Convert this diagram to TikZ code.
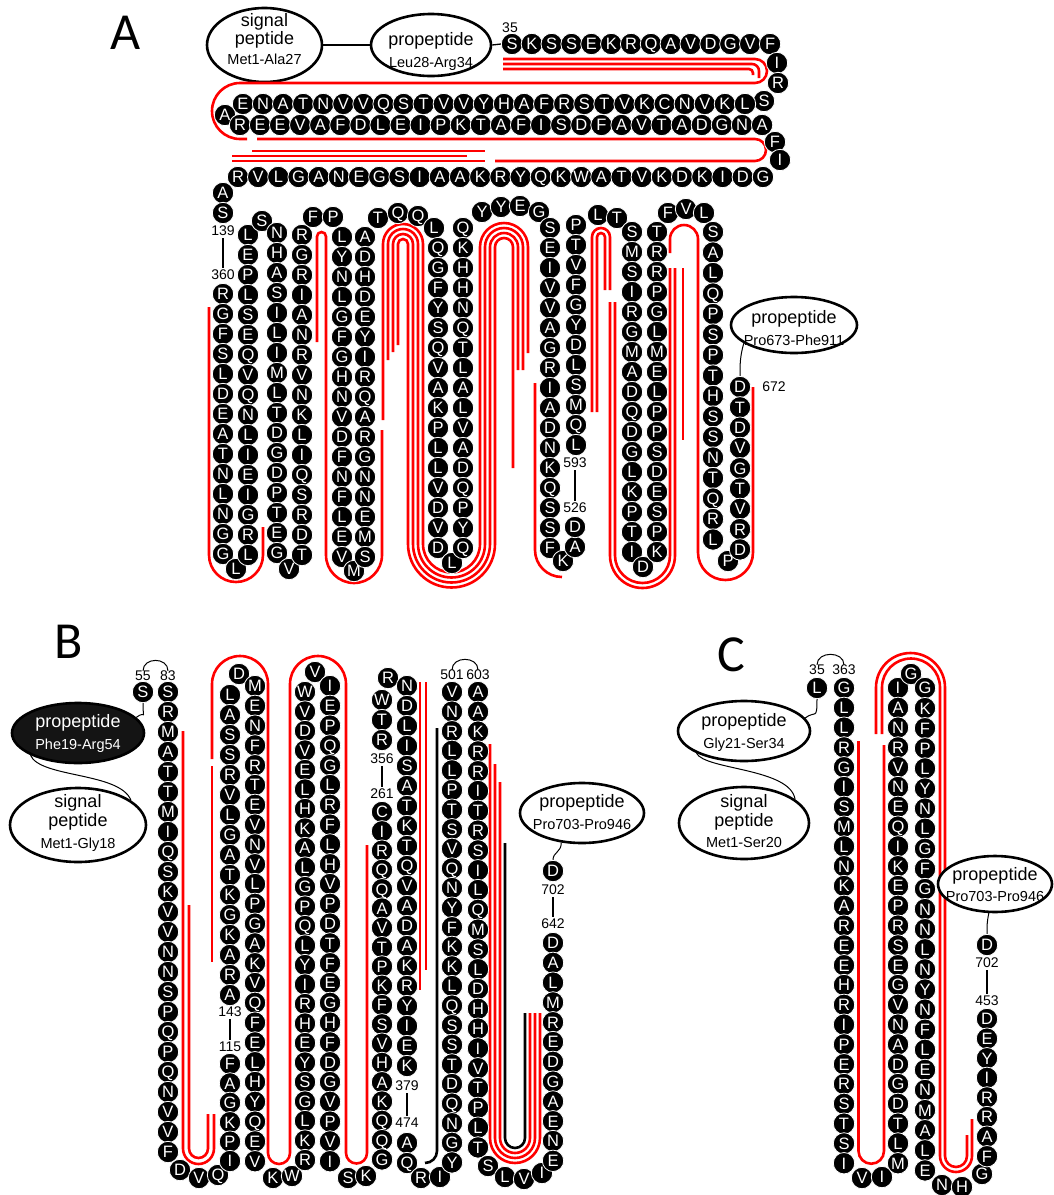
\documentclass[tikz,border=0pt]{standalone}
\usepackage{fontspec}
\setmainfont{Liberation Sans}
\newfontfamily\panelfont{Carlito}
\usetikzlibrary{shapes.geometric}
\newcommand\rfont{\fontsize{16.5pt}{16.5pt}\selectfont}
\newcommand\nfont{\fontsize{14pt}{14pt}\selectfont}
\newcommand\efont{\fontsize{18pt}{18pt}\selectfont}
\newcommand\sfont{\fontsize{14.5pt}{14.5pt}\selectfont}
\newcommand\rcol[5]{\foreach \rlt [count=\ri from 1] in {#5}{\node[res] (#1-\ri) at (#2,{#3+(\ri-1)*#4}) {\rlt};}}
\newcommand\rrow[5]{\foreach \rlt [count=\ri from 1] in {#5}{\node[res] (#1-\ri) at ({#2+(\ri-1)*#4},#3) {\rlt};}}
\tikzset{
  res/.style={circle, fill=black, draw=white, line width=0.8pt, inner sep=0pt, minimum size=21.4pt, text=white, font=\rfont, text height=11.8pt, text depth=0pt},
  num/.style={font=\nfont, inner sep=0pt},
  redl/.style={draw=red, line width=2.6pt},
  blkl/.style={draw=black, line width=2.6pt},
  conn/.style={draw=black, line width=1.3pt},
  curv/.style={draw=black, line width=1pt},
  ell/.style={ellipse, draw=black, line width=2.6pt, inner sep=0pt, fill=white},
  darkell/.style={ellipse, draw=black, line width=2.6pt, inner sep=0pt, fill=black!92},
  etx/.style={inner sep=0pt, anchor=base, font=\efont},
  stx/.style={inner sep=0pt, anchor=base, font=\sfont},
  panel/.style={font=\panelfont\fontsize{52pt}{52pt}\selectfont, inner sep=0pt},
}
\begin{document}
\begin{tikzpicture}[x=1pt,y=-1pt]
\useasboundingbox (0,0) rectangle (1053,1195);
\fill[white] (0,0) rectangle (1053,1195);

% ================= PANEL A =================
\node[panel] (pA) at (126,33) {A};
\node[ell, minimum width=115pt, minimum height=74pt] (sigA) at (264.5,45) {};
\node[etx] (sigAt1) at (264.5,26) {signal};
\node[etx] (sigAt2) at (264.5,44) {peptide};
\node[stx] (sigAt3) at (264.5,64) {Met1-Ala27};
\node[ell, minimum width=120pt, minimum height=62pt] (proA) at (431,45) {};
\node[etx] (proAt1) at (431,45) {propeptide};
\node[stx] (proAt2) at (431,67) {Leu28-Arg34};
\node[num] (n35a) at (510,28) {35};

% red lines top
\draw[redl] (503,59) -- (755,59) arc[start angle=270,end angle=450,radius=12] -- (240,83) arc[start angle=270,end angle=90,radius=28] -- (247,139);
\draw[redl] (503,64) -- (752,64) arc[start angle=270,end angle=360,radius=7] -- (759,78);
\draw[redl] (503,69) -- (749,69) arc[start angle=270,end angle=360,radius=4] -- (753,75);
\draw[redl] (257,139) -- (755,139) arc[start angle=270,end angle=450,radius=11] -- (495,161);
\draw[redl] (252,151) -- (485,151);
\draw[redl] (232,156) -- (467,156);
\draw[redl] (232,161) -- (485,161);

% red lines lower panel A
\draw[redl] (209,307) -- (209,555) arc[start angle=180,end angle=0,radius=27] -- (263,527);
\draw[redl] (317,342) -- (317,236.5) arc[start angle=180,end angle=360,radius=4.5] -- (326,555) arc[start angle=180,end angle=0,radius=28] -- (382,430);
\draw[redl] (383,420) -- (383,244) arc[start angle=180,end angle=360,radius=20] -- (423,544) arc[start angle=180,end angle=0,radius=28.5] -- (480,247) arc[start angle=180,end angle=360,radius=24] -- (528,353);
\draw[redl] (388,360) -- (388,244) arc[start angle=180,end angle=360,radius=15] -- (418,544) arc[start angle=180,end angle=0,radius=33.5] -- (485,247) arc[start angle=180,end angle=360,radius=19] -- (523,370);
\draw[redl] (393,352) -- (393,244) arc[start angle=180,end angle=360,radius=10] -- (413,544) arc[start angle=180,end angle=0,radius=38.5] -- (490,247) arc[start angle=180,end angle=360,radius=14] -- (518,370);
\draw[redl] (398,345) -- (398,244) arc[start angle=180,end angle=360,radius=5] -- (408,544) arc[start angle=180,end angle=0,radius=43.5] -- (495,247) arc[start angle=180,end angle=360,radius=9] -- (513,468);
\draw[redl] (535,383) -- (535,550) arc[start angle=180,end angle=90,radius=27];
\draw[redl] (592,412) -- (592,237) arc[start angle=180,end angle=360,radius=9] -- (610,290);
\draw[redl] (597,412) -- (597,237) arc[start angle=180,end angle=360,radius=4] -- (605,290);
\draw[redl] (610,302) -- (610,555.5) arc[start angle=180,end angle=0,radius=32.5] -- (675,268);
\draw[redl] (615,302) -- (615,555.5) arc[start angle=180,end angle=0,radius=27.5] -- (670,268);
\draw[redl] (683,268) -- (683,440);
\draw[redl] (670,253) -- (670,239) arc[start angle=180,end angle=360,radius=14] -- (698,552.5) arc[start angle=180,end angle=0,radius=27.5] -- (753,387);

% residues top rows
\rrow{ra}{512}{44}{19.85}{S,K,S,S,E,K,R,Q,A,V,D,G,V,F}
\node[res] (raI) at (777,63) {I};
\node[res] (raR) at (778,83) {R};
\node[res] (raS) at (764,101) {S};
\rrow{rb}{243}{104}{20.08}{E,N,A,T,N,V,V,Q,S,T,V,V,Y,H,A,F,R,S,T,V,K,C,N,V,K,L}
\node[res] (rbA) at (225,115) {A};
\rrow{rc}{240}{125}{20.08}{R,E,E,V,A,F,D,L,E,I,P,K,T,A,F,I,S,D,F,A,V,T,A,D,G,N,A}
\node[res] (rcF) at (775,142) {F};
\node[res] (rcI) at (780,160) {I};
\rrow{rd}{238}{177}{20.19}{R,V,L,G,A,N,E,G,S,I,A,A,K,R,Y,Q,K,W,A,T,V,K,D,K,I,D,G}
\draw[conn] (sigA.east) -- (proA.west);
\draw[conn] (proA.east) -- (ra-1.west);

% columns panel A
\node[res] (aA2) at (223,193) {A};
\node[res] (aS2) at (223,213) {S};
\node[num] (n139) at (223,231) {139};
\node[num] (n360) at (223,275) {360};
\draw[conn, shorten <=2pt, shorten >=2pt] (n139) -- (n360);
\rcol{ca1}{223}{294}{20}{R,G,F,S,L,D,E,A,T,N,L,N,G,G}
\node[res] (aL1) at (236,569) {L};
\rcol{ca2}{248}{235}{20}{L,E,P,L,S,E,Q,V,Q,N,L,I,E,I,G,R,L}
\node[res] (aS3) at (262,221) {S};
\rcol{ca3}{277}{233}{20}{N,H,A,S,I,L,I,M,L,T,D,G,D,P,T,E,G}
\node[res] (aV1) at (289,569) {V};
\rcol{ca4}{302}{235}{20}{R,G,R,I,A,N,R,V,N,K,L,I,Q,S,R,D,T}
\node[res] (aF1) at (313,217) {F};
\node[res] (aP1) at (333,217) {P};
\rcol{ca5}{342}{237}{20}{L,Y,N,L,G,F,G,H,N,V,D,F,N,F,L,E,V}
\node[res] (aM1) at (354,571) {M};
\rcol{ca6}{365}{237}{20}{A,D,H,D,E,Y,I,R,Q,A,R,G,N,N,E,M,S}
\node[res] (aT1) at (378,218) {T};
\node[res] (aQ1) at (398,213) {Q};
\node[res] (aQ2) at (418,216) {Q};
\node[res] (aL2) at (434,228) {L};
\rcol{ca7}{438}{248}{20}{Q,G,F,Y,S,Q,V,A,K,P,L,L,V,D,V,D}
\node[res] (aL3) at (452,563) {L};
\rcol{ca8}{463}{228}{20}{Q,K,H,H,N,Q,T,L,A,L,V,A,D,Q,P,Y,Q}
\node[res] (aY1) at (482,212) {Y};
\node[res] (aY2) at (501,207) {Y};
\node[res] (aE1) at (520,206) {E};
\node[res] (aG1) at (539,212) {G};
\rcol{ca9}{550}{228}{20}{S,E,I,V,V,A,G,R,I,A,D,N,K,Q,S,S,F}
\node[res] (aK1) at (563,561) {K};
\node[res] (aA3) at (575,547) {A};
\node[res] (aD1) at (575,527) {D};
\node[num] (n526) at (575,508) {526};
\node[num] (n593) at (575,463) {593};
\draw[conn, shorten <=2pt, shorten >=2pt] (n593) -- (n526);
\rcol{ca10}{576}{225}{20}{P,T,V,F,G,Y,D,L,S,M,Q,L}
\node[res] (aL4) at (598,215) {L};
\node[res] (aT2) at (617,218) {T};
\rcol{ca11}{632}{232}{20}{S,M,S,I,R,G,M,A,D,Q,D,G,L,K,P,T,I}
\node[res] (aD2) at (643,567) {D};
\rcol{ca12}{657}{232}{20}{T,R,R,P,G,L,M,E,L,P,P,S,D,E,S,P,K}
\node[res] (aF2) at (668,213) {F};
\node[res] (aV2) at (686,209) {V};
\node[res] (aL5) at (704,213) {L};
\rcol{ca13}{713}{232}{20.5}{S,A,L,Q,P,S,P,T,H,S,S,N,T,Q,R,L}
\node[res] (aP2) at (728,561) {P};
\rcol{ca14}{740}{387}{20.3}{D,T,D,V,G,T,V,R,D}
\node[num] (n672) at (774,387) {672};
\node[ell, minimum width=126pt, minimum height=56pt] (proA2) at (794,325) {};
\node[etx] (proA2t1) at (794,323) {propeptide};
\node[stx] (proA2t2) at (794,345) {Pro673-Phe911};
\draw[curv] (proA2.200) .. controls +(-4,14) and +(0,-10) .. (ca14-1.north);

% ================= PANEL B =================
\node[panel] (pB) at (69,642) {B};
\draw[redl] (183,731) -- (183,1148.5) arc[start angle=180,end angle=0,radius=15.5] -- (214,1114);
\draw[redl] (189,905) -- (189,1148.5) arc[start angle=180,end angle=0,radius=9.5] -- (208,1114);
\draw[redl] (212,759) -- (212,684) arc[start angle=180,end angle=360,radius=28] -- (268,1153) arc[start angle=180,end angle=0,radius=11] -- (290,684) arc[start angle=180,end angle=360,radius=28] -- (346,1153) arc[start angle=180,end angle=0,radius=10.5] -- (367,845);
\draw[redl] (212,766) -- (212,962);
\draw[redl] (420,682) -- (420,990);
\draw[redl] (426,682) -- (426,970);
\draw[blkl] (437,728) -- (437,1151) arc[start angle=0,end angle=90,radius=12];
\draw[redl] (490,744) -- (490,1138) arc[start angle=180,end angle=0,radius=25] -- (540,1013);
\draw[redl] (495,764) -- (495,1138) arc[start angle=180,end angle=0,radius=20] -- (535,1013);
\draw[redl] (500,782) -- (500,1138) arc[start angle=180,end angle=0,radius=15] -- (530,1013);
\draw[blkl] (505,843) -- (505,1138) arc[start angle=180,end angle=0,radius=10] -- (525,1013);

\node[num] (n55) at (143,676) {55};
\node[num] (n83) at (168,676) {83};
\draw[curv] (n55.north) .. controls +(0,-14) and +(0,-14) .. (n83.north);
\node[res] (bS1) at (143,692) {S};
\rcol{cb1}{168}{692}{20}{S,R,M,A,T,T,M,I,Q,S,K,V,V,N,N,S,P,Q,P,Q,N,V,V,F}
\node[res] (bD1) at (180,1170) {D};
\node[res] (bV1) at (199,1178) {V};
\node[res] (bQ1) at (218,1175) {Q};
\rcol{cb2b}{230}{1064}{19.4}{F,A,G,K,P,I}
\node[num] (n115) at (230,1047) {115};
\node[num] (n143) at (230,1012) {143};
\draw[conn, shorten <=2pt, shorten >=2pt] (n143) -- (n115);
\rcol{cb2}{230}{695}{20}{L,A,S,S,R,V,L,G,A,T,K,G,K,A,R,A}
\node[res] (bD2) at (239,674) {D};
\rcol{cb3}{255}{686}{19.8}{M,E,N,F,R,T,E,V,N,V,L,P,G,A,K,V,Q,F,E,L,H,Y,Q,E,V}
\node[res] (bK1) at (273,1178) {K};
\node[res] (bW1) at (292,1176) {W};
\rcol{cb4}{305}{692}{19.5}{W,V,D,V,E,L,H,K,A,L,G,P,Q,L,Y,I,R,H,E,Y,S,G,L,K,R}
\node[res] (bV2) at (315,672) {V};
\rcol{cb5}{330}{686}{19.8}{I,E,P,Q,G,L,R,F,L,H,V,P,D,T,F,E,G,H,F,D,G,V,P,V,I}
\node[res] (bS2) at (348,1178) {S};
\node[res] (bK2) at (366,1176) {K};
\rcol{cb6b}{382}{812}{19.3}{C,I,R,Q,Q,A,V,T,P,K,F,S,V,H,A,K,Q,Q,G}
\node[num] (n261) at (382,794) {261};
\node[num] (n356) at (382,759) {356};
\draw[conn, shorten <=2pt, shorten >=2pt] (n356) -- (n261);
\rcol{cb6}{382}{700}{20}{W,T,R}
\node[res] (bR1) at (388,678) {R};
\rcol{cb7}{407}{686}{20}{N,D,L,I,S,A,T,K,T,Q,V,A,D,A,K,R,Y,I,E,K}
\node[num] (n379) at (407,1086) {379};
\node[num] (n474) at (407,1123) {474};
\draw[conn, shorten <=2pt, shorten >=2pt] (n379) -- (n474);
\node[res] (bA1) at (407,1143) {A};
\node[res] (bQ2) at (407,1163) {Q};
\node[res] (bR2) at (421,1178) {R};
\node[res] (bI1) at (440,1177) {I};
\rcol{cb8}{452}{692}{19.6}{V,N,R,L,L,P,T,S,V,Q,N,Y,F,K,K,L,Q,S,S,T,D,Q,N,G,Y}
\node[num] (n501) at (452,675) {501};
\node[num] (n603) at (478,675) {603};
\draw[curv] (n501.north) .. controls +(0,-14) and +(0,-14) .. (n603.north);
\rcol{cb9}{478}{692}{19.8}{A,A,K,R,R,I,T,R,S,I,L,Q,M,S,L,D,H,H,I,V,T,P,L,T}
\node[res] (bS3) at (488,1166) {S};
\node[res] (bL1) at (505,1177) {L};
\node[res] (bV3) at (524,1179) {V};
\node[res] (bI2) at (542,1173) {I};
\rcol{cb10}{553}{943}{19.8}{D,A,L,M,R,E,D,G,A,E,N,E}
\node[num] (n642) at (553,924) {642};
\node[num] (n702b) at (553,890) {702};
\draw[conn, shorten <=2pt, shorten >=2pt] (n702b) -- (n642);
\node[res] (bD3) at (553,871) {D};

\node[darkell, minimum width=132pt, minimum height=60pt] (darkB) at (78,733) {};
\node[etx, text=white] (darkBt1) at (78,727) {propeptide};
\node[stx, text=white] (darkBt2) at (78,749) {Phe19-Arg54};
\node[ell, minimum width=136pt, minimum height=74pt] (sigB) at (78,825) {};
\node[etx] (sigBt1) at (78,807) {signal};
\node[etx] (sigBt2) at (78,826) {peptide};
\node[stx] (sigBt3) at (78,848) {Met1-Gly18};
\draw[curv] (bS1.south) .. controls +(0,20) and +(10,-8) .. (darkB.15);
\draw[curv] (darkB.205) .. controls (40,778) and (120,772) .. (sigB.25);
\node[ell, minimum width=124pt, minimum height=60pt] (propB) at (582,813) {};
\node[etx] (propBt1) at (582,807) {propeptide};
\node[stx] (propBt2) at (582,829) {Pro703-Pro946};
\draw[curv] (propB.235) .. controls +(0,10) and +(0,-8) .. (bD3.north);

% ================= PANEL C =================
\node[panel] (pC) at (731,655) {C};
\draw[redl] (858.5,741) -- (858.5,1151) arc[start angle=180,end angle=0,radius=12.75] -- (884,745);
\draw[redl] (876,734) -- (876,687.5) arc[start angle=180,end angle=360,radius=34.5] -- (945,1156) arc[start angle=180,end angle=0,radius=11] -- (967,1135);
\draw[redl] (882,734) -- (882,687.5) arc[start angle=180,end angle=360,radius=29] -- (940,1156) arc[start angle=180,end angle=0,radius=16] -- (972,1119);

\node[num] (n35c) at (817,670) {35};
\node[num] (n363) at (844,670) {363};
\draw[curv] (n35c.north) .. controls +(0,-14) and +(0,-14) .. (n363.north);
\node[res] (cL1) at (817,688) {L};
\rcol{cc1}{844}{688}{19.8}{G,L,L,R,G,I,S,M,L,N,K,A,R,E,E,H,R,I,P,E,R,S,T,S,I}
\node[res] (cV1) at (862,1178) {V};
\node[res] (cI1) at (882,1177) {I};
\rcol{cc2}{898}{688}{19.8}{I,A,N,R,V,N,E,Q,I,K,E,P,R,S,E,G,V,N,A,D,G,D,T,L,M}
\node[res] (cG1) at (911,674) {G};
\rcol{cc3}{925}{688}{20.1}{G,K,F,P,L,Y,N,L,G,F,G,N,N,L,N,Y,N,F,L,E,N,M,A,L,E}
\node[res] (cN1) at (942,1185) {N};
\node[res] (cH1) at (962,1187) {H};
\node[res] (cG2) at (982,1174) {G};
\rcol{cc4}{987}{1019}{19.6}{D,E,Y,I,R,R,A,F}
\node[num] (n453) at (987,1001) {453};
\node[num] (n702c) at (987,963) {702};
\draw[conn, shorten <=2pt, shorten >=2pt] (n702c) -- (n453);
\node[res] (cD1) at (987,945) {D};

\node[ell, minimum width=132pt, minimum height=60pt] (propC1) at (744,731) {};
\node[etx] (propC1t1) at (744,726) {propeptide};
\node[stx] (propC1t2) at (744,748) {Gly21-Ser34};
\node[ell, minimum width=130pt, minimum height=72pt] (sigC) at (744,823) {};
\node[etx] (sigCt1) at (744,807) {signal};
\node[etx] (sigCt2) at (744,826) {peptide};
\node[stx] (sigCt3) at (744,847) {Met1-Ser20};
\draw[curv] (cL1.south) .. controls +(0,22) and +(10,-8) .. (propC1.12);
\draw[curv] (propC1.205) .. controls (705,770) and (790,768) .. (sigC.25);
\node[ell, minimum width=114pt, minimum height=56pt] (propC2) at (995,884) {};
\node[etx] (propC2t1) at (995,880) {propeptide};
\node[stx] (propC2t2) at (995,901) {Pro703-Pro946};
\draw[curv] (propC2.258) .. controls +(-2,10) and +(0,-8) .. (cD1.north);
\end{tikzpicture}
\end{document}
